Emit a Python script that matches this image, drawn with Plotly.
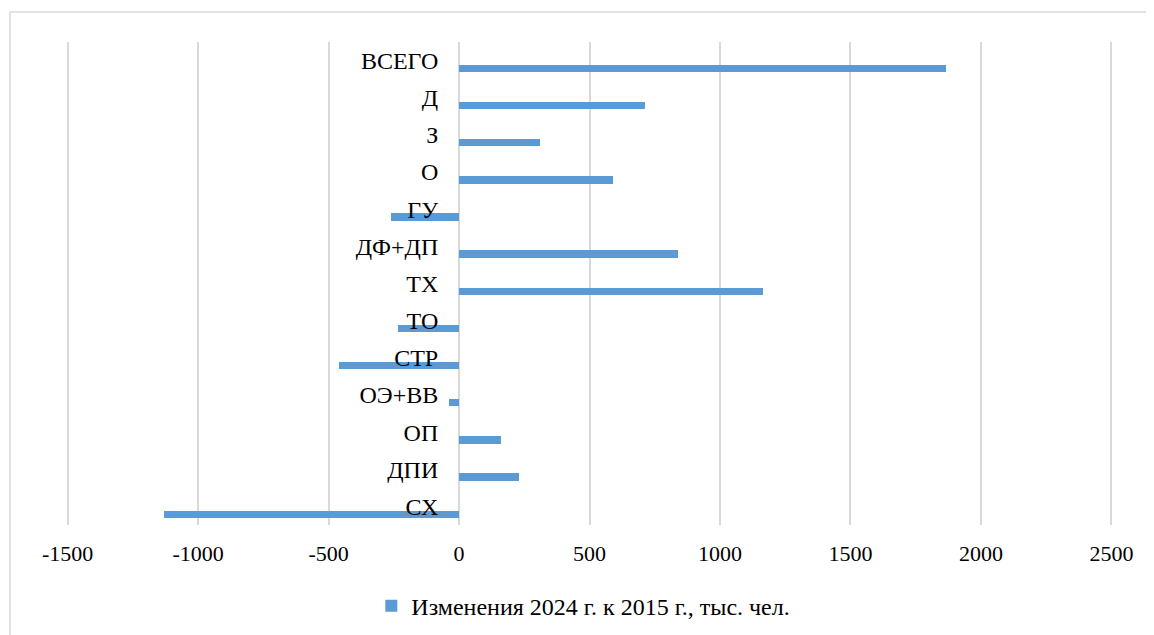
import plotly.graph_objects as go

categories = ["СХ", "ДПИ", "ОП", "ОЭ+ВВ", "СТР", "ТО", "ТХ", "ДФ+ДП", "ГУ", "О", "З", "Д", "ВСЕГО"]
values = [-1129, 229, 160, -37, -459, -235, 1166, 838, -262, 591, 310, 713, 1867]
series_name = "Изменения 2024 г. к 2015 г., тыс. чел."
x_ticks = [-1500, -1000, -500, 0, 500, 1000, 1500, 2000, 2500]

X_MIN, X_MAX = -1510, 2510
FONT = "Liberation Serif, Times New Roman, serif"
fig = go.Figure()
fig.add_trace(go.Bar(
    y=categories, x=values, orientation="h", name=series_name,
    marker=dict(color="#5B9BD5", line=dict(width=0)),
    width=0.2, offset=-0.31, showlegend=True,
))

fig.update_layout(
    width=1146, height=627,
    margin=dict(l=57, r=40, t=34, b=110, autoexpand=False),
    plot_bgcolor="white", paper_bgcolor="white",
    font=dict(family=FONT, size=22, color="black"),
    showlegend=True,
    legend=dict(orientation="h", x=0.292, xanchor="left", y=-0.168, yanchor="middle",
                font=dict(family=FONT, size=24, color="black"), itemwidth=30),
    xaxis=dict(range=[X_MIN, X_MAX], tickvals=x_ticks, ticktext=[str(v) for v in x_ticks],
               showgrid=True, gridcolor="#D9D9D9", gridwidth=2, zeroline=False,
               showline=False, ticks="outside", ticklen=9, tickcolor="rgba(0,0,0,0)",
               automargin=False,
               tickfont=dict(family=FONT, size=22, color="black")),
    yaxis=dict(type="category", categoryorder="array", categoryarray=categories,
               anchor="free", position=(0 - X_MIN) / (X_MAX - X_MIN),
               showgrid=False, zeroline=False, showline=False,
               ticks="outside", ticklen=16, tickcolor="rgba(0,0,0,0)", automargin=False,
               tickfont=dict(family=FONT, size=24, color="black")),
    shapes=[dict(type="rect", xref="paper", yref="paper",
                 x0=-0.0524, x1=1.2, y0=-0.4, y1=1.062,
                 line=dict(color="#D9D9D9", width=1.5), fillcolor="rgba(0,0,0,0)", layer="below")],
    bargap=0,
)

fig.write_html("out.html")
